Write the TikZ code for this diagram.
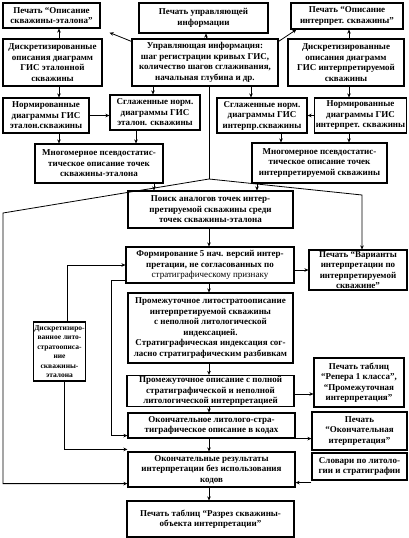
\documentclass[tikz,border=0pt]{standalone}
\usepackage{fontspec}
\setmainfont{Liberation Serif}
\usetikzlibrary{arrows.meta}
\tikzset{>={Stealth[length=4pt,width=3.6pt]},box/.style={draw,line width=1.2pt,align=center,inner sep=1pt,font=\bfseries\fontsize{9}{10.5}\selectfont},small/.style={inner sep=.5pt,font=\bfseries\fontsize{7.5}{9.4}\selectfont},arr/.style={->,line width=.8pt},ln/.style={line width=.8pt}}

\begin{document}
\begin{tikzpicture}[x=1pt,y=-1pt]
\useasboundingbox (0,0) rectangle (408,538);
\node[box,minimum width=97,minimum height=25] (pechEt) at (51.5,15.5) {Печать “Описание\\скважины-эталона”};
\node[box,minimum width=129,minimum height=30] (pechUpr) at (203.5,18) {Печать управляющей\\информации};
\node[box,minimum width=112,minimum height=26] (pechInt) at (347,16) {Печать “Описание\\интерпрет. скважины”};
\node[box,minimum width=99,minimum height=47] (diskEt) at (52.5,62.5) {Дискретизированные\\описания диаграмм\\ГИС эталонной\\скважины};
\node[box,minimum width=146,minimum height=47] (upr) at (205,62.5) {Управляющая информация:\\шаг регистрации кривых ГИС,\\количество шагов сглаживания,\\начальная глубина и др.};
\node[box,minimum width=116,minimum height=47] (diskInt) at (346,62.5) {Дискретизированные\\описания диаграмм\\ГИС интерпретируемой\\скважины};
\node[box,minimum width=86,minimum height=35] (normEt) at (46,115.5) {Нормированные\\диаграммы ГИС\\эталон.скважины};
\node[box,minimum width=90,minimum height=35] (sglEt) at (155,112.5) {Сглаженные норм.\\диаграммы ГИС\\эталон. скважины};
\node[box,minimum width=90,minimum height=35] (sglInt) at (262,115.5) {Сглаженные норм.\\диаграммы ГИС\\интерпр.скважины};
\node[box,minimum width=91,minimum height=35] (normInt) at (360.5,115.5) {Нормированные\\диаграммы ГИС\\интерпрет. скважины};
\node[box,minimum width=128,minimum height=39] (mnEt) at (99,163.5) {Многомерное псевдостатис-\\тическое описание точек\\скважины-эталона};
\node[box,minimum width=135,minimum height=40] (mnInt) at (319.5,163) {Многомерное псевдостатис-\\тическое описание точек\\интерпретируемой скважины};
\node[box,minimum width=165,minimum height=37] (poisk) at (210.5,209.5) {Поиск аналогов точек интер-\\претируемой скважины среди\\точек скважины-эталона};
\node[box,minimum width=168,minimum height=36] (form) at (210,265) {Формирование 5 нач. версий интер-\\претации, не согласованных по\\\mdseries стратиграфическому признаку};
\node[box,minimum width=98,minimum height=40] (pechVar) at (358,270) {Печать “Варианты\\интерпретации по\\интерпретируемой\\скважине”};
\node[box,minimum width=165,minimum height=70] (promLS) at (210.5,328) {Промежуточное литостратоописание\\интерпретируемой скважины\\с неполной литологической\\индексацией.\\Стратиграфическая индексация сог-\\ласно стратиграфическим разбивкам};
\node[box,small,minimum width=45,minimum height=59] (diskLS) at (59.5,351.5) {Дискретизиро-\\ванное лито-\\стратоописа-\\ние\\скважины-\\эталона};
\node[box,minimum width=167,minimum height=30] (promPol) at (210.5,391) {Промежуточное описание с полной\\стратиграфической и неполной\\литологической интерпретацией};
\node[box,minimum width=90,minimum height=49] (pechRep) at (359,382.5) {Печать таблиц\\“Репера 1 класса”,\\“Промежуточная\\интерпретация”};
\node[box,minimum width=167,minimum height=25] (okonKod) at (211.5,425.5) {Окончательное литолого-стра-\\тиграфическое описание в кодах};
\node[box,minimum width=95,minimum height=38] (pechOkon) at (359.5,431) {Печать\\“Окончательная\\итерпретация”};
\node[box,minimum width=167,minimum height=35] (okonRez) at (211.5,469.5) {Окончательные результаты\\интерпретации без использования\\кодов};
\node[box,minimum width=95,minimum height=27] (slov) at (359.5,466.5) {Словари по литоло-\\гии и стратиграфии};
\node[box,minimum width=167,minimum height=36] (pechRaz) at (210.5,519) {Печать таблиц “Разрез скважины-\\объекта интерпретации”};
\draw[arr] ([xshift=6.5pt]diskEt.north) -- ([xshift=6.5pt]diskEt.north |- pechEt.south);
\draw[arr] ([yshift=-3pt]upr.north west) -- ([xshift=9pt,yshift=-4pt]pechEt.south east);
\draw[arr] ([xshift=1pt]upr.north) -- ([xshift=1pt]upr.north |- pechUpr.south);
\draw[arr] ([yshift=-3pt]upr.north east) -- ([xshift=6pt]pechInt.south west);
\draw[arr] ([xshift=3pt]diskInt.north) -- ([xshift=3pt]diskInt.north |- pechInt.south);
\draw[arr] ([xshift=6.5pt]diskEt.south) -- ([xshift=6.5pt]diskEt.south |- normEt.north);
\draw[arr] (normEt.east) -- (normEt.east -| sglEt.west);
\draw[arr] ([xshift=-52pt]upr.south) -- ([xshift=-52pt]upr.south |- sglEt.north);
\draw[arr] ([xshift=46pt]upr.south) -- ([xshift=46pt]upr.south |- sglInt.north);
\draw[arr] ([xshift=3pt]diskInt.south) -- ([xshift=3pt]diskInt.south |- normInt.north);
\draw[arr] (normInt.west) -- (normInt.west -| sglInt.east);
\draw[arr] ([xshift=13pt]normEt.south) -- ([xshift=13pt]normEt.south |- mnEt.north);
\draw[arr] ([xshift=-19pt]sglEt.south) -- ([xshift=-19pt]sglEt.south |- mnEt.north);
\draw[arr] ([xshift=19pt]sglInt.south) -- ([xshift=19pt]sglInt.south |- mnInt.north);
\draw[arr] ([xshift=-11.5pt]normInt.south) -- ([xshift=-11.5pt]normInt.south |- mnInt.north);
\draw[arr] ([xshift=55pt]mnEt.south) -- ([xshift=55pt]mnEt.south |- poisk.north);
\draw[arr] ([xshift=-62.5pt]mnInt.south) -- ([xshift=-62.5pt]mnInt.south |- poisk.north);
\coordinate (razv) at (209,179);
\draw[ln] ([xshift=4pt]upr.south) -- (razv);
\draw[arr] (razv) -- (3,213) |- ([yshift=4pt]okonRez.south west);
\draw[arr] (razv) -- (362,195) -- ([xshift=4pt]pechVar.north);
\draw[arr] ([xshift=-1.5pt]poisk.south) -- ([xshift=-1.5pt]poisk.south |- form.north);
\draw[arr] (pechVar.west -| form.east) -- (pechVar.west);
\draw[arr] ([xshift=-1pt]form.south) -- ([xshift=-1pt]form.south |- promLS.north);
\draw[arr] ([xshift=-1.5pt]promLS.south) -- ([xshift=-1.5pt]promLS.south |- promPol.north);
\draw[arr] ([yshift=-3pt]promPol.east) -- ([yshift=-3pt]promPol.east -| pechRep.west);
\draw[arr] ([xshift=-1.5pt]promPol.south) -- ([xshift=-1.5pt]promPol.south |- okonKod.north);
\draw[arr] (okonKod.south east) -- (okonKod.south east -| pechOkon.west);
\draw[arr] ([xshift=-2.5pt]okonKod.south) -- ([xshift=-2.5pt]okonKod.south |- okonRez.north);
\draw[arr] ([yshift=3pt]form.south west) -- ++(-14,0) |- ([yshift=3pt]okonKod.south west);
\draw[arr] ([xshift=7.5pt]diskLS.north) |- (form.west);
\draw[arr] ([xshift=4.5pt]diskLS.south) |- ([yshift=2pt]okonRez.north west);
\draw[arr] ([yshift=-2pt]slov.south west) -- ([yshift=-2pt]slov.south west -| okonRez.east);
\draw[arr] ([xshift=-2.5pt]okonRez.south) -- ([xshift=-2.5pt]okonRez.south |- pechRaz.north);
\end{tikzpicture}
\end{document}
